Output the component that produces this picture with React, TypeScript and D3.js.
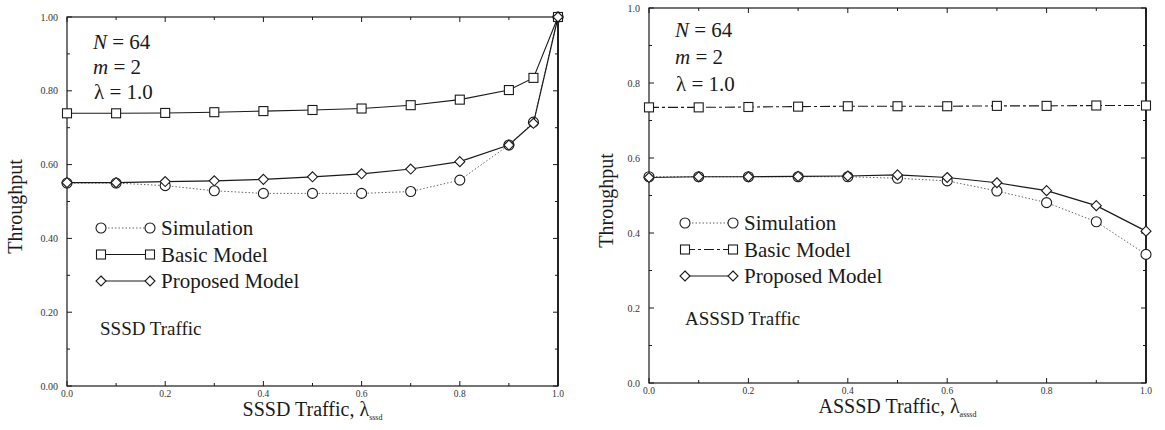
import React from 'react';
import * as d3 from 'd3';

// SSSD panel (left)
const sssdX = [0, 0.1, 0.2, 0.3, 0.4, 0.5, 0.6, 0.7, 0.8, 0.9, 0.95, 1.0];
const sssdSim = [0.55, 0.55, 0.543, 0.529, 0.522, 0.522, 0.522, 0.527, 0.558, 0.653, 0.715, 1.0];
const sssdBasic = [0.739, 0.739, 0.74, 0.742, 0.745, 0.748, 0.752, 0.761, 0.776, 0.802, 0.835, 1.0];
const sssdProposed = [0.551, 0.551, 0.554, 0.556, 0.56, 0.567, 0.575, 0.588, 0.608, 0.653, 0.712, 1.0];

// ASSSD panel (right)
const asssdX = [0, 0.1, 0.2, 0.3, 0.4, 0.5, 0.6, 0.7, 0.8, 0.9, 1.0];
const asssdSim = [0.55, 0.55, 0.55, 0.55, 0.55, 0.546, 0.539, 0.512, 0.481, 0.43, 0.343];
const asssdBasic = [0.735, 0.735, 0.736, 0.737, 0.738, 0.738, 0.738, 0.739, 0.739, 0.74, 0.74];
const asssdProposed = [0.548, 0.55, 0.55, 0.551, 0.552, 0.555, 0.548, 0.534, 0.513, 0.473, 0.405];

const xTicks = [0, 0.2, 0.4, 0.6, 0.8, 1.0];
const yTicks = [0, 0.2, 0.4, 0.6, 0.8, 1.0];
const legendNames = ['Simulation', 'Basic Model', 'Proposed Model'];

const FONT = "'Liberation Serif', 'DejaVu Serif', serif";
const INK = '#1a1a1a';

function Marker({ type, x, y }) {
  if (type === 'circle') {
    return <circle cx={x} cy={y} r={5} fill="white" stroke={INK} strokeWidth={1.1} />;
  }
  if (type === 'square') {
    return <rect x={x - 4.5} y={y - 4.5} width={9} height={9} fill="white" stroke={INK} strokeWidth={1.1} />;
  }
  const s = 5;
  return (
    <path
      d={`M${x},${y - s}L${x + s},${y}L${x},${y + s}L${x - s},${y}Z`}
      fill="white"
      stroke={INK}
      strokeWidth={1.1}
    />
  );
}

function Panel({ box, xs, series, yFmt, xLabel, sub, trafficLabel, textPos, legendPos, basicDash, ylabelX }) {
  const x = d3.scaleLinear().domain([0, 1]).range([box.x0, box.x1]);
  const y = d3.scaleLinear().domain([0, 1]).range([box.y0, box.y1]);
  const line = d3.line().x((d) => x(d[0])).y((d) => y(d[1]));
  const minor = d3.range(0, 1.0001, 0.1);

  const styles = [
    { dash: '1.5,2', stroke: '#666', width: 1, marker: 'circle' },
    { dash: basicDash, stroke: INK, width: 1.1, marker: 'square' },
    { dash: null, stroke: INK, width: 1.2, marker: 'diamond' },
  ];

  return (
    <g>
      {/* frame */}
      <rect
        x={box.x0}
        y={box.y1}
        width={box.x1 - box.x0}
        height={box.y0 - box.y1}
        fill="none"
        stroke={INK}
        strokeWidth={1.2}
      />
      <line x1={box.x1} x2={box.x1} y1={box.y1} y2={box.y0} stroke={INK} strokeWidth={1.8} />

      {/* inward ticks on all sides */}
      {minor.map((t, i) => {
        const len = i % 2 === 0 ? 5 : 3;
        return (
          <g key={'t' + i} stroke={INK} strokeWidth={1}>
            <line x1={x(t)} x2={x(t)} y1={box.y0} y2={box.y0 - len} />
            <line x1={x(t)} x2={x(t)} y1={box.y1} y2={box.y1 + len} />
            <line x1={box.x0} x2={box.x0 + len} y1={y(t)} y2={y(t)} />
            <line x1={box.x1} x2={box.x1 - len} y1={y(t)} y2={y(t)} />
          </g>
        );
      })}

      {xTicks.map((t) => (
        <text key={'xl' + t} x={x(t)} y={box.y0 + 11} fontFamily={FONT} fontSize={9.5} textAnchor="middle" fill="#333">
          {t.toFixed(1)}
        </text>
      ))}
      {yTicks.map((t) => (
        <text key={'yl' + t} x={box.x0 - 9} y={y(t) + 3.5} fontFamily={FONT} fontSize={10} textAnchor="end" fill="#333">
          {yFmt(t)}
        </text>
      ))}

      {/* axis titles */}
      <text
        transform={`translate(${ylabelX},${(box.y0 + box.y1) / 2 + 5}) rotate(-90)`}
        fontFamily={FONT}
        fontSize={20}
        textAnchor="middle"
        fill={INK}
      >
        Throughput
      </text>
      <text x={(box.x0 + box.x1) / 2} y={box.y0 + 30} fontFamily={FONT} fontSize={20} textAnchor="middle" fill={INK}>
        {xLabel}, λ
        <tspan fontSize={8} dy={4}>
          {sub}
        </tspan>
      </text>

      {/* series */}
      {series.map((vals, si) => {
        const pts = xs.map((v, i) => [v, vals[i]]);
        const st = styles[si];
        return (
          <g key={'s' + si}>
            <path
              d={line(pts)}
              fill="none"
              stroke={st.stroke}
              strokeWidth={st.width}
              strokeDasharray={st.dash || undefined}
            />
            {pts.map((p, i) => (
              <Marker key={i} type={st.marker} x={x(p[0])} y={y(p[1])} />
            ))}
          </g>
        );
      })}

      {/* parameters */}
      <text x={textPos.x} y={textPos.y} fontFamily={FONT} fontSize={21} fill={INK}>
        <tspan fontStyle="italic">N</tspan> = 64
      </text>
      <text x={textPos.x} y={textPos.y + textPos.dy} fontFamily={FONT} fontSize={21} fill={INK}>
        <tspan fontStyle="italic">m</tspan> = 2
      </text>
      <text x={textPos.x + 1} y={textPos.y + 2 * textPos.dy} fontFamily={FONT} fontSize={21} fill={INK}>
        λ = 1.0
      </text>

      {/* legend */}
      {legendNames.map((name, i) => {
        const ly = legendPos.y + i * legendPos.dy;
        const st = styles[i];
        return (
          <g key={'lg' + i}>
            <line
              x1={legendPos.x}
              x2={legendPos.x + legendPos.w}
              y1={ly}
              y2={ly}
              stroke={st.stroke}
              strokeWidth={st.width}
              strokeDasharray={st.dash || undefined}
            />
            <Marker type={st.marker} x={legendPos.x} y={ly} />
            <Marker type={st.marker} x={legendPos.x + legendPos.w} y={ly} />
            <text x={legendPos.x + legendPos.w + 11} y={ly + 7} fontFamily={FONT} fontSize={21} fill={INK}>
              {name}
            </text>
          </g>
        );
      })}

      <text x={trafficLabel.x} y={trafficLabel.y} fontFamily={FONT} fontSize={19} fill={INK}>
        {trafficLabel.text}
      </text>
    </g>
  );
}

export default function App() {
  return (
    <svg
      width={1165}
      height={430}
      style={{ position: 'absolute', left: 0, top: 0, background: 'white' }}
    >
      <Panel
        box={{ x0: 67, x1: 558, y0: 386, y1: 17 }}
        xs={sssdX}
        series={[sssdSim, sssdBasic, sssdProposed]}
        yFmt={(t) => t.toFixed(2)}
        xLabel="SSSD Traffic"
        sub="sssd"
        trafficLabel={{ x: 100, y: 335, text: 'SSSD Traffic' }}
        textPos={{ x: 93, y: 49, dy: 25 }}
        legendPos={{ x: 101, y: 228, dy: 26.5, w: 49 }}
        basicDash={null}
        ylabelX={22}
      />
      <Panel
        box={{ x0: 649, x1: 1146, y0: 383, y1: 8 }}
        xs={asssdX}
        series={[asssdSim, asssdBasic, asssdProposed]}
        yFmt={(t) => t.toFixed(1)}
        xLabel="ASSSD Traffic"
        sub="asssd"
        trafficLabel={{ x: 685, y: 325, text: 'ASSSD Traffic' }}
        textPos={{ x: 675, y: 37, dy: 27 }}
        legendPos={{ x: 685, y: 223, dy: 26.5, w: 48 }}
        basicDash="10,3,3,3"
        ylabelX={613}
      />
    </svg>
  );
}
